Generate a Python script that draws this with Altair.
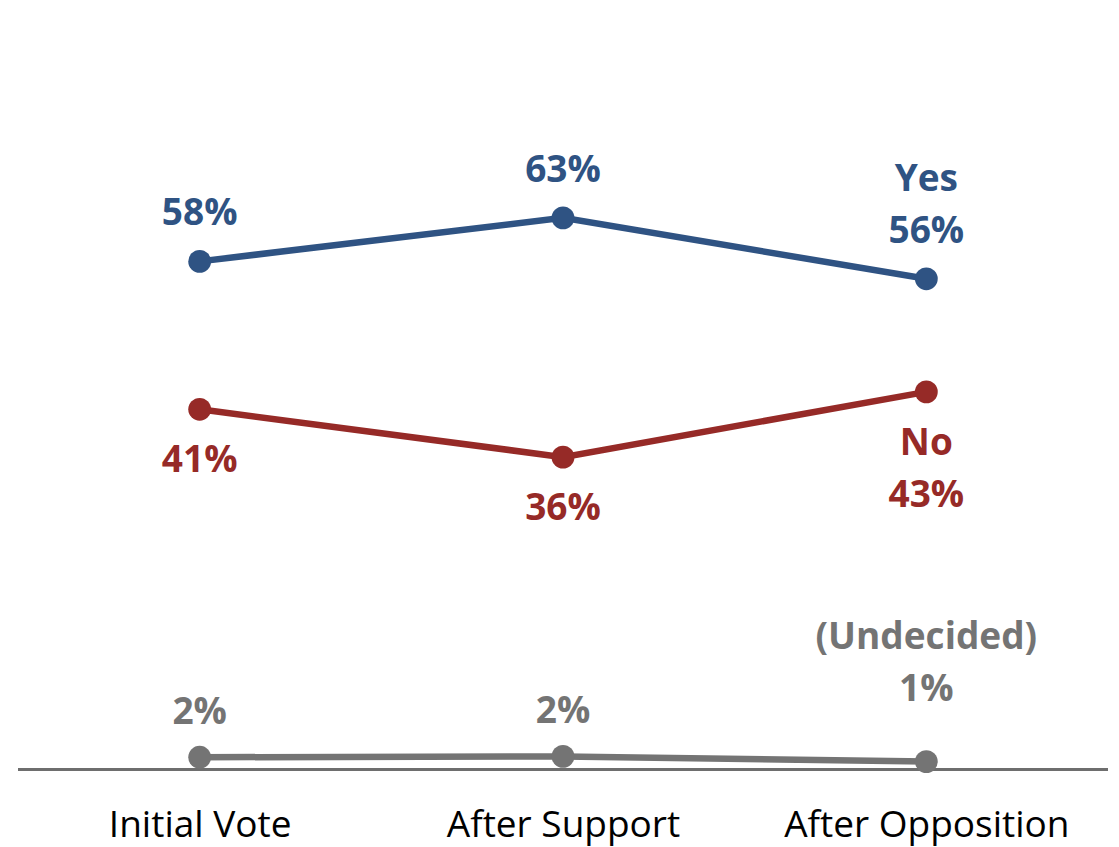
import altair as alt
import pandas as pd

stages = ["Initial Vote", "After Support", "After Opposition"]
yes_vals = [58, 63, 56]
no_vals = [41, 35.5, 43]
und_vals = [1.0, 1.1, 0.5]
yes_labels = ["58%", "63%", "56%"]
no_labels = ["41%", "36%", "43%"]
und_labels = ["2%", "2%", "1%"]
series_names = ["Yes", "No", "Undecided"]
series_colors = ["#2F5383", "#962A27", "#747474"]

rows = []
for s, vals, labs in zip(series_names, [yes_vals, no_vals, und_vals], [yes_labels, no_labels, und_labels]):
    for i, (st, v, lb) in enumerate(zip(stages, vals, labs)):
        rows.append({"stage": st, "series": s, "value": v, "label": lb, "last": i == len(stages) - 1})
df = pd.DataFrame(rows)

FONT = "Open Sans"
FS = 37
x = alt.X("stage:N", sort=stages, scale=alt.Scale(paddingInner=0, paddingOuter=0),
          axis=alt.Axis(title=None, labelAngle=0, labelFontSize=37, labelFont=FONT, labelColor="#000000",
                        labelPadding=38, labelLimit=0, ticks=False, domain=False))
y = alt.Y("value:Q", scale=alt.Scale(domain=[-0.35, 80], nice=False, zero=False), axis=None)
color = alt.Color("series:N", scale=alt.Scale(domain=series_names, range=series_colors), legend=None)

base = alt.Chart(df).encode(x=x, y=y, color=color)

lines = base.mark_line(strokeWidth=6.5)
points = base.mark_circle(size=520, opacity=1)

def txt(flt, dy, field="label"):
    return base.transform_filter(flt).mark_text(dy=dy, fontSize=FS, fontWeight="bold", font=FONT).encode(
        text=alt.Text(f"{field}:N"))

yes_t = txt(alt.datum.series == "Yes", -47)
no_t = txt((alt.datum.series == "No") & (~alt.datum.last), 52)
no_last = txt((alt.datum.series == "No") & (alt.datum.last), 104)
und_t = txt((alt.datum.series == "Undecided") & (~alt.datum.last), -44)
und_last = txt((alt.datum.series == "Undecided") & (alt.datum.last), -72)
yes_name = txt((alt.datum.series == "Yes") & (alt.datum.last), -99, "series")
no_name = txt((alt.datum.series == "No") & (alt.datum.last), 52, "series")
und_name = base.transform_filter((alt.datum.series == "Undecided") & (alt.datum.last)).transform_calculate(
    nm="'(' + datum.series + ')'").mark_text(dy=-124, fontSize=FS, fontWeight="bold", font=FONT).encode(
    text="nm:N")

axis_line = alt.Chart(pd.DataFrame({"v": [0]})).mark_rule(color="#6E6E6E", strokeWidth=3).encode(
    x=alt.value(0), x2=alt.value(1090), y=alt.value(699.5))

chart = alt.layer(axis_line, lines, points, yes_t, no_t, no_last, und_t, und_last, yes_name, no_name, und_name).properties(
    width=1090, height=699,
    autosize=alt.AutoSizeParams(type="none"),
    padding={"left": 10, "top": 62, "right": 0, "bottom": 90},
    background="#ffffff",
).configure_view(stroke=None)

chart.save("out.html", embed_options={"renderer": "svg", "actions": False})
